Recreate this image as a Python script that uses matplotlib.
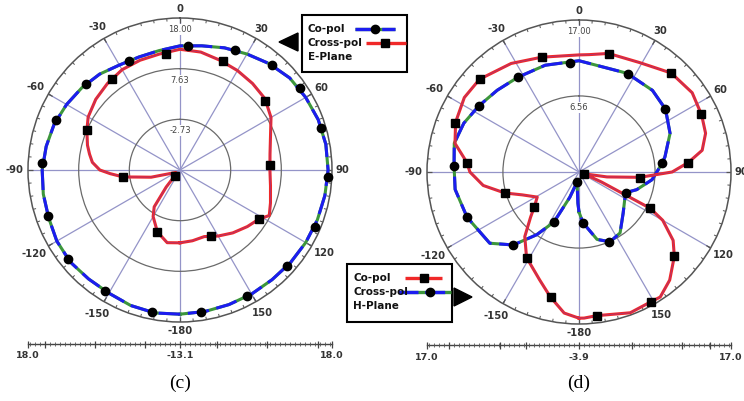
import matplotlib
matplotlib.use("Agg")
import matplotlib.pyplot as plt
import numpy as np
from matplotlib.patches import Rectangle, Polygon

W, H = 744, 401
R = 152  # dial radius in pixels

BLUE = "#1c1cf0"
GREEN = "#3c963c"
RED = "#f02828"
PURPLE = "#8a3a9a"

ANGLE_LABELS = ["0", "30", "60", "90", "120", "150", "-180", "-150", "-120", "-90", "-60", "-30"]

# ---- (c) E-plane ----
E_MIN, E_MAX = -13.1, 18.0
E_RINGS = [-2.73, 7.63, 18.00]
E_RING_LABELS = ["-2.73", "7.63", "18.00"]

E_CO_ANG = list(range(-180, 181, 10))
E_CO_DB = [16.4, 16.6, 16.4, 16.0, 16.0, 16.2, 16.0, 15.5, 15.3, 15.1, 14.7, 14.3, 13.7,
           13.1, 12.5, 11.7, 11.5, 11.7, 12.3, 12.7, 13.5, 14.3, 15.3, 16.2, 16.6, 17.0,
           17.2, 17.2, 17.0, 16.8, 16.6, 16.4, 16.2, 16.2, 16.2, 16.3, 16.4]
E_CO_MK_ANG = [3.7, 24.6, 41, 55.7, 73.4, 92.7, 113, 132, 152, 171.6, -169, -148, -128.5,
               -109, -87, -68, -47.5, -25]
E_CO_MK_DB = [12.4, 13.9, 15.5, 16.6, 17.0, 17.2, 16.8, 16.4, 16.2, 16.3, 16.6, 16.0, 16.2,
              15.5, 15.1, 14.3, 12.9, 11.5]

E_X_ANG = [-180, -170, -160, -150, -145, -141, -138, -120, -104, -99, -97, -93, -90, -85,
           -80, -75, -67, -60, -50, -40, -30, -20, -10, 0, 10, 20, 30, 40, 50, 60, 70, 80,
           90, 100, 110, 117, 122, 130, 140, 150, 160, 170, 180]
E_X_DB = [1.8, 2.0, 0.4, -2.1, -3.9, -8.6, -11.5, -12.1, -7.0, -3.9, -1.4, 1.2, 3.3, 4.9,
          5.7, 6.5, 7.6, 8.6, 9.4, 10.0, 10.6, 10.8, 11.0, 11.6, 11.4, 10.8, 10.4, 10.0, 9.6,
          8.4, 6.6, 5.6, 5.3, 5.7, 6.6, 7.4, 5.9, 4.9, 3.7, 2.5, 1.4, 1.6, 1.8]
E_X_MK_ANG = [-160, -138, -97, -67, -37, -7, 21.5, 51, 87, 122, 155]
E_X_MK_DB = [0.4, -11.5, -1.4, 7.6, 10.1, 10.9, 10.8, 9.3, 5.3, 5.9, 1.7]

# ---- (d) H-plane ----
H_MIN, H_MAX = -3.9, 17.0
H_RINGS = [6.56, 17.00]
H_RING_LABELS = ["6.56", "17.00"]

H_CO_ANG = [-180, -174, -167, -160, -148.5, -140, -133, -128, -121, -112, -105.8, -98, -90,
            -85, -77, -68, -57, -47, -32, -18, 0, 5, 14, 29, 43, 55, 65, 73, 80, 85, 90, 95,
            100, 104, 110, 114, 116, 117, 120, 126, 131.5, 140, 147, 151, 160, 173, 178, 180]
H_CO_DB = [16.2, 15.6, 13.7, 11.9, 9.9, 7.7, 5.2, 3.9, 2.8, 4.5, 6.7, 9.4, 11.1, 11.6, 13.6,
           14.4, 14.9, 14.8, 13.7, 12.7, 12.2, 12.3, 12.9, 13.3, 14.7, 15.1, 14.7, 14.3, 13.3,
           11.2, 8.9, 4.5, 0.0, -2.5, -3.2, -0.5, 2.3, 7.1, 9.4, 12.1, 13.6, 15.5, 16.6, 16.5,
           16.7, 16.0, 16.2, 16.2]
H_CO_MK_ANG = [-167.4, -148.5, -128, -105.8, -85.4, -68.4, -46.8, -17.8, 14.3, 42.9, 64.6,
               85.3, 95.6, 110, 116.9, 131.5, 151, 172.9]
H_CO_MK_DB = [13.7, 9.9, 3.9, 6.7, 11.6, 14.4, 14.8, 12.7, 12.9, 14.7, 14.7, 11.2, 4.5, -3.1,
              7.1, 13.6, 16.5, 16.0]

H_X_ANG = [-180, -178, -169, -160, -153.4, -146, -138, -128.6, -112, -98, -87.3, -77, -67,
           -56.6, -45, -32.7, -17.6, 0, 26, 42, 54, 67, 80, 84, 96, 107, 114, 133, 146, 156,
           165, 175.5, 180]
H_X_DB = [1.6, 0.4, -2.5, -0.2, 3.8, 6.5, 9.6, 11.8, 12.7, 13.3, 13.3, 13.7, 13.3, 12.6, 12.0,
          11.6, 11.5, 11.4, 11.2, 11.2, 10.8, 9.7, 8.1, 7.6, 6.2, 4.4, 3.1, 4.4, 6.2, 6.6, 5.7,
          3.1, 1.6]
H_X_MK_ANG = [-4.7, 26.3, 53.8, 83.8, 113.6, 156.5, 175.5, -168.7, -153.4, -137.9, -111.9,
              -87.3, -56.6, -32.7]
H_X_MK_DB = [11.1, 11.2, 10.8, 7.6, 3.2, 6.6, 3.1, -2.5, 3.8, 9.6, 12.7, 13.3, 12.6, 11.6]

fig = plt.figure(figsize=(W / 100, H / 100), dpi=100)
fig.patch.set_facecolor("white")


def make_dial(cx, cy, rmin, rmax, rings, ring_labels):
    ax = fig.add_axes([(cx - R) / W, 1 - (cy + R) / H, 2 * R / W, 2 * R / H],
                      projection="polar")
    ax.set_theta_zero_location("N")
    ax.set_theta_direction(-1)
    ax.set_rlim(rmin, rmax)
    ax.set_xticks(np.radians(np.arange(0, 360, 30)))
    ax.set_xticklabels([])
    ax.tick_params(axis="x", length=0)
    ax.set_yticks(rings[:-1])
    ax.set_yticklabels([])
    ax.tick_params(axis="y", length=0)
    ax.xaxis.grid(True, color="#9494c8", lw=0.9)
    ax.yaxis.grid(True, color="#6a6a6a", lw=0.9)
    ax.spines["polar"].set_color("#555555")
    ax.spines["polar"].set_linewidth(1.1)

    upx = (rmax - rmin) / R  # data units per pixel
    # dial tick marks on the outer ring
    ax.vlines(np.radians(np.arange(0, 360, 5)), rmax - 3 * upx, rmax, color="#555555",
              lw=0.7, zorder=2)
    ax.vlines(np.radians(np.arange(0, 360, 30)), rmax - 5 * upx, rmax, color="#555555",
              lw=0.9, zorder=2)

    for a, lbl in zip(range(0, 360, 30), ANGLE_LABELS):
        t = np.radians(a)
        hw = 3.1 * len(lbl)
        dist = R + 4 + hw * abs(np.sin(t)) + 4.5 * abs(np.cos(t))
        ax.text(t, rmin + dist * upx, lbl, ha="center", va="center", fontsize=7.2,
                fontweight="bold", color="#333333", clip_on=False)
    for rv, lbl in zip(rings, ring_labels):
        ax.text(0, rv - 11.5 * upx, lbl, ha="center", va="center", fontsize=6,
                color="#444444", zorder=2,
                bbox=dict(boxstyle="square,pad=0.1", fc="white", ec="none"))
    return ax


def draw_trace(ax, ang, val, kind):
    th = np.radians(ang)
    if kind == "blue":
        ax.plot(th, val, color=GREEN, lw=2.2, zorder=3)
        ax.plot(th, val, color=BLUE, lw=2.2, dashes=(7, 2.5), zorder=3)
    else:
        ax.plot(th, val, color=RED, lw=2.2, zorder=3)
        ax.plot(th, val, color=PURPLE, lw=0.7, alpha=0.6, zorder=3)


def draw_markers(ax, ang, val, marker):
    ax.plot(np.radians(ang), val, ls="none", marker=marker, color="black",
            ms=5.5 if marker == "s" else 6, zorder=4, clip_on=False)


ax_e = make_dial(180, 170, E_MIN, E_MAX, E_RINGS, E_RING_LABELS)
draw_trace(ax_e, E_X_ANG, E_X_DB, "red")
draw_trace(ax_e, E_CO_ANG, E_CO_DB, "blue")
draw_markers(ax_e, E_X_MK_ANG, E_X_MK_DB, "s")
draw_markers(ax_e, E_CO_MK_ANG, E_CO_MK_DB, "o")

ax_h = make_dial(579, 172, H_MIN, H_MAX, H_RINGS, H_RING_LABELS)
draw_trace(ax_h, H_X_ANG, H_X_DB, "blue")
draw_trace(ax_h, H_CO_ANG, H_CO_DB, "red")
draw_markers(ax_h, H_X_MK_ANG, H_X_MK_DB, "o")
draw_markers(ax_h, H_CO_MK_ANG, H_CO_MK_DB, "s")

# overlay in pixel coordinates for legends, scales and captions
ov = fig.add_axes([0, 0, 1, 1])
ov.set_xlim(0, W)
ov.set_ylim(H, 0)
ov.axis("off")


def legend_sample(x0, x1, xm, y, kind, marker):
    if kind == "blue":
        ov.plot([x0, x1], [y, y], color=GREEN, lw=2.4, solid_capstyle="butt")
        ov.plot([x0, x1], [y, y], color=BLUE, lw=2.4, dashes=(6, 2))
    else:
        ov.plot([x0, x1], [y, y], color=RED, lw=2.4, solid_capstyle="butt")
    ov.plot([xm], [y], marker=marker, color="black", ms=6, ls="none")


def legend_box(x0, y0, x1, y1, names, title):
    ov.add_patch(Rectangle((x0, y0), x1 - x0, y1 - y0, fc="white", ec="black", lw=1.5,
                           zorder=1))
    for i, txt in enumerate(names + [title]):
        ov.text(x0 + 6, y0 + 14 + 14 * i, txt, ha="left", va="center", fontsize=7.5,
                fontweight="bold", color="#111111")


legend_box(302, 15, 407, 72, ["Co-pol", "Cross-pol"], "E-Plane")
legend_sample(355, 395, 375, 29, "blue", "o")
legend_sample(366, 406, 385, 43, "red", "s")
ov.add_patch(Polygon([[298, 33], [298, 51], [279, 42]], closed=True, fc="black", ec="black"))

legend_box(347, 264, 452, 322, ["Co-pol", "Cross-pol"], "H-Plane")
legend_sample(405, 442, 424, 278, "red", "s")
legend_sample(398, 451, 430, 292, "blue", "o")
ov.add_patch(Polygon([[454, 288], [454, 306], [472, 297]], closed=True, fc="black",
                     ec="black"))


def draw_scale(cx, y, end_lbl, mid_lbl, majors):
    ov.plot([cx - R, cx + R], [y, y], color="#444444", lw=1)
    minor = np.arange(-150, 151, 5)
    ov.vlines(cx + minor, y - 1.6, y + 1.6, color="#555555", lw=0.6)
    ov.vlines(cx + np.array(majors), y - 3.5, y + 3.5, color="#444444", lw=0.9)
    for x, lbl in [(cx - R, end_lbl), (cx, mid_lbl), (cx + R, end_lbl)]:
        ov.text(x, y + 12, lbl, ha="center", va="center", fontsize=6.8, fontweight="bold",
                color="#333333")


draw_scale(180, 344, "18.0", "-13.1", [-152, -135, -85, -35, 0, 37, 87, 138, 152])
draw_scale(579, 345, "17.0", "-3.9", [-152, -130, -79, -53, 0, 53, 103, 131, 152])

ov.text(180, 383, "(c)", ha="center", va="center", fontsize=14, family="Liberation Serif")
ov.text(579, 383, "(d)", ha="center", va="center", fontsize=14, family="Liberation Serif")

fig.savefig("out.png", dpi=100, facecolor="white")
